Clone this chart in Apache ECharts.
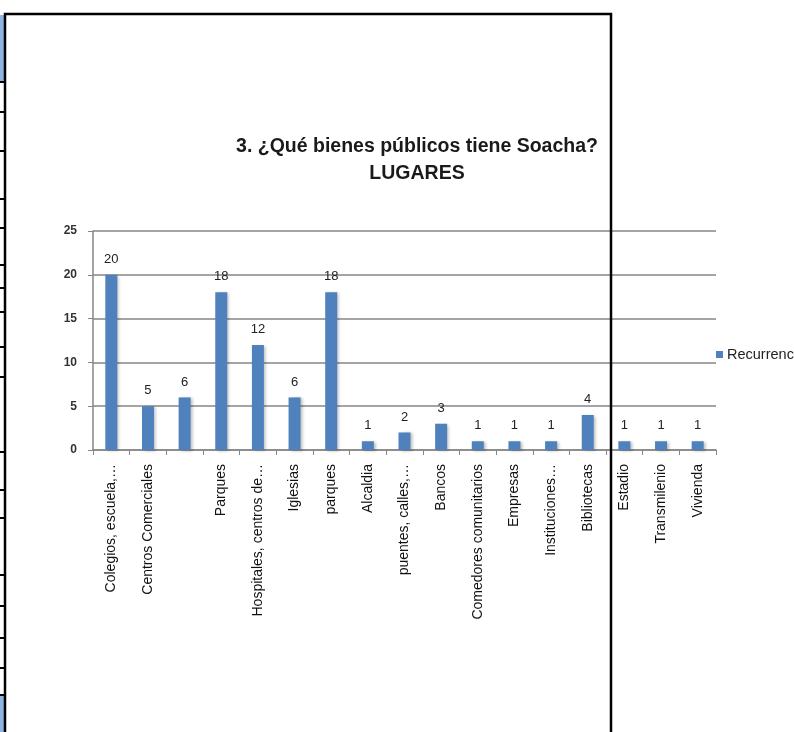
<!DOCTYPE html>
<html>
<head>
<meta charset="utf-8">
<script src="https://cdn.jsdelivr.net/npm/echarts@6/dist/echarts.min.js"></script>
<style>html,body{margin:0;padding:0;background:#fff;}#c{width:794px;height:732px;}</style>
</head>
<body>
<div id="c"></div>
<script>
const categories = ["Colegios, escuela,…", "Centros Comerciales", "", "Parques", "Hospitales, centros de…", "Iglesias", "parques", "Alcaldia", "puentes, calles,…", "Bancos", "Comedores comunitarios", "Empresas", "Instituciones…", "Bibliotecas", "Estadio", "Transmilenio", "Vivienda"];
const recurrencia = [20, 5, 6, 18, 12, 6, 18, 1, 2, 3, 1, 1, 1, 4, 1, 1, 1];
const yTicks = { min: 0, max: 25, interval: 5 };
const titleText = "3. ¿Qué bienes públicos tiene Soacha?\nLUGARES";
const seriesName = "Recurrencia";
const rowLines = [82, 112, 151, 199, 228, 265, 288, 312, 347, 377, 452, 490, 518, 575, 606, 638, 668, 695];

const chart = echarts.init(document.getElementById('c'), null, { renderer: 'canvas' });
const graphics = [
  { type: 'rect', shape: { x: 0, y: 15, width: 4, height: 67 }, style: { fill: '#8DB4E2' }, z: 100 },
  { type: 'rect', shape: { x: 0, y: 695, width: 4, height: 37 }, style: { fill: '#8DB4E2' }, z: 100 }
];
rowLines.forEach(y => graphics.push({ type: 'line', shape: { x1: 0, y1: y, x2: 5, y2: y }, style: { stroke: '#000', lineWidth: 2 }, z: 100 }));
graphics.push({ type: 'polyline', shape: { points: [[5, 732], [5, 14], [611, 14], [611, 732]] }, style: { stroke: '#000', lineWidth: 2.5, fill: null }, z: 100 });

chart.setOption({
  animation: false,
  backgroundColor: '#fff',
  title: {
    text: titleText,
    left: 412, top: 128, textAlign: 'center',
    textStyle: { fontFamily: 'Liberation Sans, sans-serif', fontSize: 19.5, fontWeight: 'bold', color: '#1a1a1a', lineHeight: 27 }
  },
  legend: {
    left: 711, top: 342, itemWidth: 7, itemHeight: 7, itemGap: 4,
    icon: 'rect',
    textStyle: { fontFamily: 'Liberation Sans, sans-serif', fontSize: 14.5, color: '#222', padding: [0, 0, 0, -1] },
    data: [seriesName]
  },
  grid: { left: 93, top: 231, right: 78, bottom: 282, containLabel: false },
  xAxis: {
    type: 'category', data: categories,
    axisLine: { lineStyle: { color: '#868686', width: 1.5 } },
    axisTick: { show: true, length: 5, lineStyle: { color: '#868686' }, interval: 0 },
    axisLabel: { rotate: 90, interval: 0, margin: 14, fontFamily: 'Liberation Sans, sans-serif', fontSize: 14, color: '#111' }
  },
  yAxis: {
    type: 'value', min: yTicks.min, max: yTicks.max, interval: yTicks.interval,
    axisLine: { show: true, lineStyle: { color: '#868686', width: 1.5 } },
    axisTick: { show: true, length: 5, lineStyle: { color: '#868686' } },
    splitLine: { lineStyle: { color: '#868686', width: 1.5 } },
    axisLabel: { margin: 16, fontFamily: 'Liberation Sans, sans-serif', fontSize: 12, fontWeight: 'bold', color: '#333' }
  },
  series: [{
    name: seriesName, type: 'bar', data: recurrencia, barWidth: 12,
    itemStyle: { color: '#4F81BD', shadowColor: 'rgba(0,0,0,0.25)', shadowOffsetX: 2, shadowOffsetY: 1, shadowBlur: 3 },
    label: { show: true, position: 'top', distance: 9, fontFamily: 'Liberation Sans, sans-serif', fontSize: 13, color: '#222' }
  }],
  graphic: graphics
});
</script>
</body>
</html>
